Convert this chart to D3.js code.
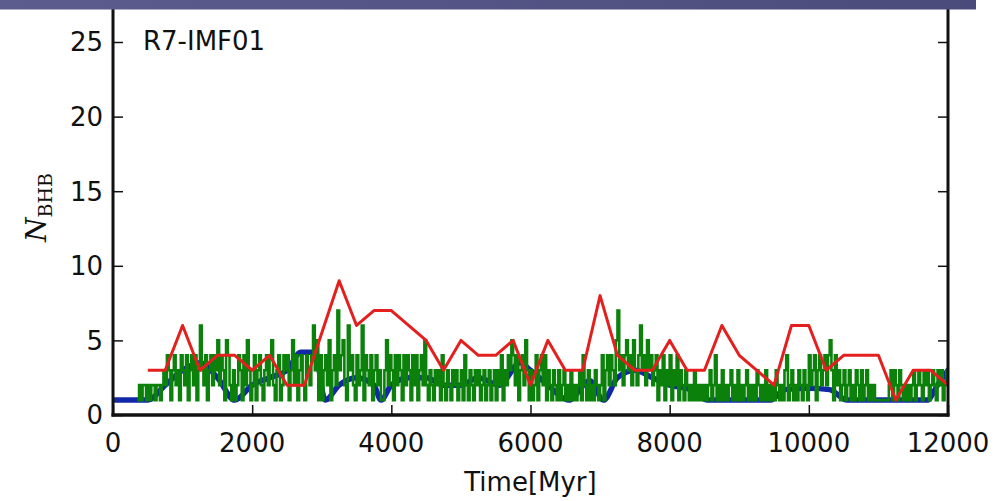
<!DOCTYPE html>
<html>
<head>
<meta charset="utf-8">
<script src="https://cdn.jsdelivr.net/npm/d3@7"></script>
<style>
  html, body { margin: 0; padding: 0; background: #fff; }
  svg { display: block; }
  text { font-family: "DejaVu Sans", sans-serif; fill: #111; }
</style>
</head>
<body>
<svg id="chart" width="998" height="501"></svg>
<script>
// Run label
const runName = "R7-IMF01";

// Axis ticks
const xTicks = [0, 2000, 4000, 6000, 8000, 10000, 12000];
const yTicks = [0, 5, 10, 15, 20, 25];

// Red series: N_BHB sampled every ~250 Myr
const redTime = [500, 750, 1000, 1250, 1500, 1750, 2000, 2250, 2500, 2750, 3250, 3500, 3750, 4000,
  4500, 4750, 5000, 5250, 5500, 5750, 6000, 6250, 6500, 6750, 7000, 7250, 7500, 7750, 8000, 8250,
  8500, 8750, 9000, 9500, 9750, 10000, 10250, 10500, 11000, 11250, 11500, 11750, 12000];
const redValue = [3, 3, 6, 3, 4, 4, 3, 4, 2, 2, 9, 6, 7, 7,
  5, 3, 5, 4, 4, 5, 2, 5, 3, 3, 8, 4, 3, 3, 5, 3,
  3, 6, 4, 2, 6, 6, 3, 4, 4, 1, 3, 3, 2];

// Blue series: smoothed N_BHB
const blueTime = [0, 250, 500, 750, 1000, 1250, 1500, 1750, 2000, 2250, 2500, 2700, 2900, 3050,
  3250, 3500, 3750, 3850, 4000, 4250, 4500, 4750, 5000, 5250, 5550, 5850, 6000, 6250, 6550,
  6850, 7050, 7250, 7500, 7750, 8000, 8300, 8550, 9000, 9450, 9650, 10000, 10300, 10550,
  11000, 11700, 11850, 12000];
const blueValue = [1, 1, 1, 2, 3, 3.5, 2.5, 1, 2, 2.5, 3, 4.2, 4.2, 1,
  2, 2.5, 2, 1, 2, 2.5, 2.5, 2, 2, 2.5, 2, 3.5, 3, 2, 1,
  2.3, 1, 2.5, 3, 2.5, 2, 1.7, 1, 1, 1, 1.7, 1.8, 1.7, 1,
  1, 1, 2, 3];

// Green series: instantaneous N_BHB, one value every 25 Myr from 350 Myr
const greenStart = 350, greenStep = 25;
const greenValue = [
  1, 2, 1, 2, 2, 1,
  2, 1, 2, 2, 1, 2, 2, 1, 2, 3, 2, 4, 3, 1, 3, 4, 2, 3, 1, 4,
  3, 2, 4, 1, 3, 4, 2, 4, 1, 3, 6, 3, 2, 4, 1, 3, 4, 2, 4, 3,
  5, 2, 4, 3, 1, 5, 4, 2, 1, 3, 1, 2, 4, 3, 1, 4, 2, 5, 3, 1,
  2, 4, 1, 3, 4, 2, 1, 3, 4, 2, 4, 5, 2, 1, 3, 4, 1, 2, 4, 3,
  4, 1, 3, 5, 2, 4, 1, 3, 4, 2, 1, 4, 3, 2, 4, 6, 3, 5, 1, 4,
  1, 3, 4, 2, 5, 1, 3, 4, 2, 7, 3, 4, 5, 2, 1, 6, 3, 4, 2, 1,
  4, 2, 3, 6, 1, 4, 3, 2, 4, 1, 3, 4, 2, 3, 1, 1, 3, 5, 2, 4,
  3, 1, 4, 2, 4, 3, 1, 4, 2, 4, 3, 1, 4, 2, 4, 1, 3, 4, 2, 5,
  2, 1, 3, 2, 1, 3, 2, 3, 1, 4, 2, 1, 3, 2, 1, 3, 2, 3, 1, 2,
  3, 1, 4, 2, 1, 3, 2, 1, 3, 2, 3, 1, 2, 3, 1, 2, 3, 1, 2, 3,
  1, 3, 2, 4, 1, 3, 2, 4, 3, 5, 4, 2, 4, 1, 3, 4, 2, 5, 3, 1,
  3, 1, 2, 4, 1, 3, 4, 2, 4, 1, 3, 2, 1, 3, 2, 1, 3, 1, 2, 3,
  1, 2, 1, 3, 1, 2, 1, 2, 3, 1, 4, 2, 1, 3, 1, 2, 1, 3, 2, 1,
  2, 4, 1, 3, 4, 2, 4, 3, 2, 5, 7, 3, 4, 2, 4, 5, 3, 4, 2, 5,
  3, 2, 4, 6, 3, 4, 2, 5, 3, 4, 2, 3, 4, 1, 3, 2, 4, 1, 3, 2,
  4, 1, 3, 2, 4, 1, 3, 2, 1, 3, 2, 1, 2, 1, 3, 1, 2, 1, 2, 1,
  2, 1, 2, 3, 1, 2, 4, 1, 2, 1, 3, 1, 2, 1, 2, 3, 1, 2, 1, 3,
  1, 2, 1, 2, 3, 1, 2, 1, 2, 1, 3, 2, 1, 2, 1, 3, 1, 2, 1, 2,
  1, 3, 2, 1, 2, 1, 3, 4, 1, 2, 3, 1, 2, 1, 3, 2, 1, 3, 2, 1,
  4, 2, 3, 4, 1, 3, 4, 2, 3, 4, 2, 4, 5, 3, 1, 4, 2, 3, 1, 2,
  3, 1, 2, 3, 1, 2, 1, 3, 2, 1, 3, 1, 2, 3, 1, 2, 1, 2, 1, 1,
  1, 1, 1, 1, 1, 1, 2, 3, 1, 3, 2, 1, 3, 2, 1, 2, 1, 2, 1, 2,
  3, 1, 2, 3, 2, 1, 3, 2, 3, 1, 2, 3, 2, 1, 3, 2, 3, 1, 2, 3,
  2
];

const svg = d3.select("#chart");
const left = 113, right = 948, bottom = 415;

const x = d3.scaleLinear().domain([0, 12000]).range([left, right]);
const y = d3.scaleLinear().domain([0, 30]).range([bottom, bottom - 30 * 14.92]);

svg.append("defs").append("clipPath").attr("id", "plotClip")
  .append("rect").attr("x", left).attr("y", 0).attr("width", right - left).attr("height", bottom);

const plot = svg.append("g").attr("clip-path", "url(#plotClip)");

const blueData = blueTime.map((t, i) => [t, blueValue[i]]);
const greenData = greenValue.map((v, i) => [greenStart + i * greenStep, v]);
const redData = redTime.map((t, i) => [t, redValue[i]]);

plot.append("path").datum(blueData)
  .attr("fill", "none").attr("stroke", "#1228a6").attr("stroke-width", 5.5)
  .attr("stroke-linejoin", "round").attr("stroke-linecap", "round")
  .attr("d", d3.line().x(d => x(d[0])).y(d => y(d[1])).curve(d3.curveMonotoneX));

plot.append("path").datum(greenData)
  .attr("fill", "none").attr("stroke", "#0b800b").attr("stroke-width", 2.6)
  .attr("d", d3.line().x(d => x(d[0])).y(d => y(d[1])).curve(d3.curveStepAfter));

plot.append("path").datum(redData)
  .attr("fill", "none").attr("stroke", "#e4201f").attr("stroke-width", 3)
  .attr("stroke-linejoin", "round")
  .attr("d", d3.line().x(d => x(d[0])).y(d => y(d[1])));

// Axes: ticks point inward, on left, right and bottom
const axes = svg.append("g");
const yLeft = d3.axisRight(y).tickValues(yTicks).tickSize(10).tickFormat("");
const yRight = d3.axisLeft(y).tickValues(yTicks).tickSize(10).tickFormat("");
const xBottom = d3.axisTop(x).tickValues(xTicks).tickSize(10).tickFormat("");

[[yLeft, `translate(${left},0)`], [yRight, `translate(${right},0)`], [xBottom, `translate(0,${bottom})`]]
  .forEach(([ax, tr]) => {
    const g = axes.append("g").attr("transform", tr).call(ax);
    g.select(".domain").remove();
    g.selectAll("line").attr("stroke", "#111").attr("stroke-width", 1.5);
  });

// Frame
axes.append("line").attr("x1", left).attr("x2", left).attr("y1", 0).attr("y2", bottom + 1.5)
  .attr("stroke", "#111").attr("stroke-width", 3);
axes.append("line").attr("x1", right).attr("x2", right).attr("y1", 0).attr("y2", bottom + 1.5)
  .attr("stroke", "#111").attr("stroke-width", 3);
axes.append("line").attr("x1", left - 1.5).attr("x2", right + 1.5).attr("y1", bottom).attr("y2", bottom)
  .attr("stroke", "#111").attr("stroke-width", 3.5);

// Tick labels
svg.append("g").selectAll("text").data(yTicks).join("text")
  .attr("x", left - 10).attr("y", d => y(d)).attr("dy", "0.36em")
  .attr("text-anchor", "end").attr("font-size", 26).text(d => d);

svg.append("g").selectAll("text").data(xTicks).join("text")
  .attr("x", d => x(d)).attr("y", bottom + 37)
  .attr("text-anchor", "middle").attr("font-size", 26).text(d => d);

// Axis titles
svg.append("text").attr("x", (left + right) / 2).attr("y", 491)
  .attr("text-anchor", "middle").attr("font-size", 26).text("Time[Myr]");

const yl = svg.append("text")
  .attr("transform", `translate(46,${bottom / 2}) rotate(-90)`)
  .attr("text-anchor", "middle")
  .style("font-family", "'DejaVu Serif', serif");
yl.append("tspan").attr("font-style", "italic").attr("font-size", 28).text("N");
yl.append("tspan").attr("font-size", 19).attr("dy", 6).text("BHB");

// Run label
svg.append("text").attr("x", 143).attr("y", 50).attr("font-size", 26).text(runName);

// Title band across the top
const grad = svg.append("defs").append("linearGradient").attr("id", "band")
  .attr("x1", "0").attr("x2", "1").attr("y1", "0").attr("y2", "0");
grad.append("stop").attr("offset", "0").attr("stop-color", "#5c5c8f");
grad.append("stop").attr("offset", "1").attr("stop-color", "#4b4b7b");
svg.append("rect").attr("x", 0).attr("y", 0).attr("width", 976).attr("height", 9.5)
  .attr("fill", "url(#band)");
</script>
</body>
</html>
